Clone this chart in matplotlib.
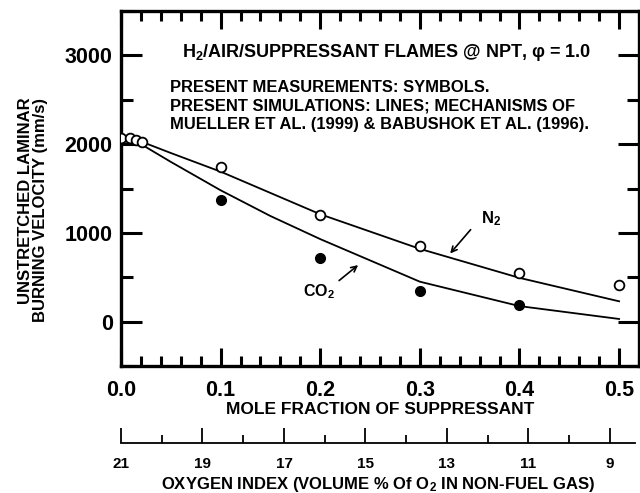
import matplotlib
matplotlib.use('Agg')
import matplotlib.pyplot as plt
from matplotlib.ticker import MultipleLocator, FormatStrFormatter

plt.rcParams['font.family'] = ['Liberation Sans', 'DejaVu Sans']
plt.rcParams['font.weight'] = 'bold'
plt.rcParams['axes.labelweight'] = 'bold'
plt.rcParams['mathtext.fontset'] = 'custom'
plt.rcParams['mathtext.rm'] = 'Liberation Sans:bold'
plt.rcParams['mathtext.it'] = 'Liberation Sans:bold'
plt.rcParams['mathtext.bf'] = 'Liberation Sans:bold'

# measurements (symbols)
n2_x = [0.0, 0.009, 0.015, 0.021, 0.1, 0.2, 0.3, 0.4, 0.5]
n2_meas = [2071, 2071, 2050, 2027, 1740, 1207, 854, 545, 417]
co2_x = [0.1, 0.2, 0.3, 0.4]
co2_meas = [1376, 714, 342, 188]

# simulations (lines)
n2_sim_x = [0.0, 0.02, 0.05, 0.1, 0.2, 0.3, 0.4, 0.5]
n2_sim = [2080, 2030, 1900, 1690, 1210, 820, 493, 229]
co2_sim_x = [0.0, 0.02, 0.05, 0.1, 0.15, 0.2, 0.3, 0.4, 0.5]
co2_sim = [2010, 2000, 1800, 1480, 1190, 930, 450, 175, 30]

fig = plt.figure(figsize=(6.4, 4.93), dpi=100)
ax = fig.add_axes([121/640, 1-366/493, 518/640, 355/493])

ax.plot(n2_sim_x, n2_sim, color='black', lw=1.3)
ax.plot(co2_sim_x, co2_sim, color='black', lw=1.3)
ax.plot(n2_x, n2_meas, 'o', mfc='white', mec='black', ms=7, mew=1.3, zorder=3)
ax.plot(co2_x, co2_meas, 'o', mfc='black', mec='black', ms=7, zorder=3)

ax.set_xlim(0, 0.52)
ax.set_ylim(-500, 3500)
ax.xaxis.set_major_locator(MultipleLocator(0.1))
ax.xaxis.set_minor_locator(MultipleLocator(0.02))
ax.yaxis.set_major_locator(MultipleLocator(1000))
ax.yaxis.set_minor_locator(MultipleLocator(500))
ax.set_yticks([0, 1000, 2000, 3000])
ax.xaxis.set_major_formatter(FormatStrFormatter('%.1f'))
ax.tick_params(which='both', direction='in', top=True, right=True, width=2.2, labelsize=15.5)
ax.tick_params(axis='x', which='major', length=13, pad=10)
ax.tick_params(axis='x', which='minor', length=7)
ax.tick_params(axis='y', which='major', length=15, pad=6)
ax.tick_params(axis='y', which='minor', length=8.5)
for s in ax.spines.values():
    s.set_linewidth(2.4)

ax.set_xlabel('MOLE FRACTION OF SUPPRESSANT', fontsize=12.5, labelpad=1)
ax.set_ylabel('UNSTRETCHED LAMINAR\nBURNING VELOCITY (mm/s)', fontsize=12,
              multialignment='right', linespacing=1.05)
ax.yaxis.set_label_coords(-0.14, 0.44)

ax.text(0.5125, 0.8845, 'H$_2$/AIR/SUPPRESSANT FLAMES @ NPT, \u03c6 = 1.0',
        transform=ax.transAxes, ha='center', va='center', fontsize=13)
ax.text(0.0946, 0.733,
        'PRESENT MEASUREMENTS: SYMBOLS.\n'
        'PRESENT SIMULATIONS: LINES; MECHANISMS OF\n'
        'MUELLER ET AL. (1999) & BABUSHOK ET AL. (1996).',
        transform=ax.transAxes, ha='left', va='center', fontsize=11.9, linespacing=1.3)

ax.annotate('', xy=(0.3286, 744), xytext=(0.3528, 1060),
            arrowprops=dict(arrowstyle='->', lw=1.2, color='black'))
ax.text(0.372, 1162, 'N$_2$', ha='center', va='center', fontsize=12)
ax.annotate('', xy=(0.2402, 657), xytext=(0.2168, 443),
            arrowprops=dict(arrowstyle='->', lw=1.2, color='black'))
ax.text(0.199, 338, 'CO$_2$', ha='center', va='center', fontsize=11.5)

# oxygen index axis
ax2 = fig.add_axes([121/640, 1-443/493, 514/640, 0.001])
ax2.set_xlim(21, 21 - 514/40.75)
ax2.set_yticks([])
for side in ['left', 'right', 'top']:
    ax2.spines[side].set_visible(False)
ax2.spines['bottom'].set_linewidth(1.3)
ax2.patch.set_visible(False)
ax2.xaxis.set_minor_locator(MultipleLocator(1))
ax2.set_xticks([21, 19, 17, 15, 13, 11, 9])
ax2.tick_params(which='both', direction='in', width=1.3, labelsize=11)
ax2.tick_params(which='major', length=10.5, pad=10)
ax2.tick_params(which='minor', length=6)
ax2.set_xlabel('OXYGEN INDEX (VOLUME % Of O$_2$ IN NON-FUEL GAS)', fontsize=12, labelpad=3)

fig.savefig('out.png', dpi=100)
